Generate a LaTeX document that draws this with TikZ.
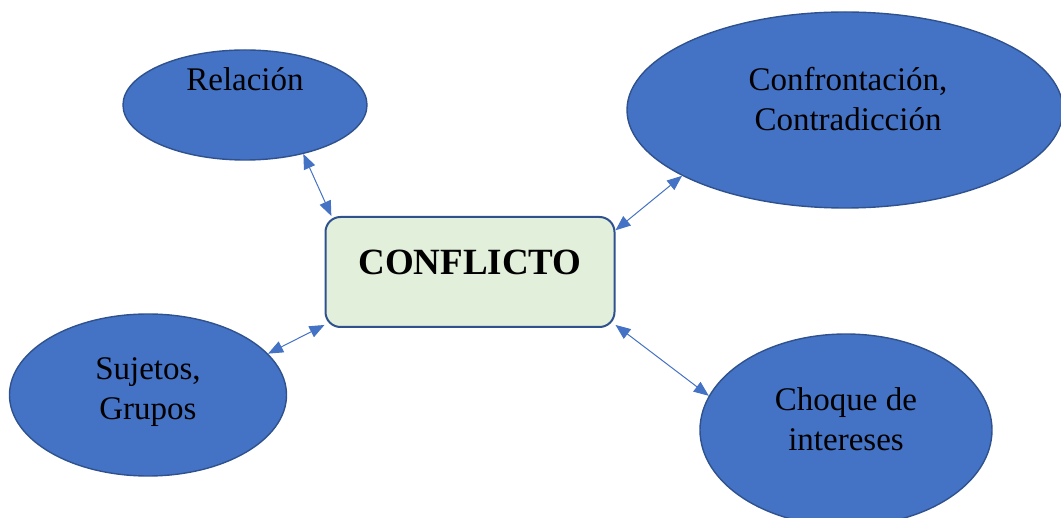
\documentclass[tikz,border=0pt]{standalone}
\usepackage{fontspec}
\setmainfont{Liberation Serif}
\usetikzlibrary{shapes.geometric, arrows.meta}
\definecolor{bubblefill}{HTML}{4472C4}
\definecolor{bubbleline}{HTML}{2F528F}
\definecolor{boxfill}{HTML}{E2EFDA}
\tikzstyle{bubble} = [ellipse, draw=bubbleline, fill=bubblefill, line width=1.4pt, inner sep=0pt]
\tikzstyle{centre} = [rectangle, rounded corners=15pt, draw=bubbleline, fill=boxfill, line width=2pt, minimum width=289pt, minimum height=110pt]
\tikzstyle{word} = [font=\fontsize{33}{40}\selectfont, align=center, anchor=base, inner sep=0pt]
\tikzstyle{arrow} = [line width=1pt, draw=bubblefill, {Triangle[length=15pt,width=12pt]}-{Triangle[length=15pt,width=12pt]}]

\begin{document}
\begin{tikzpicture}[x=1pt,y=-1pt]
\useasboundingbox (0,0) rectangle (1061,518);

\node[bubble, minimum width=244pt, minimum height=110pt] (rel) at (245,105) {};
\node[bubble, minimum width=436pt, minimum height=196pt] (conf) at (845,110) {};
\node[bubble, minimum width=277pt, minimum height=162pt] (suj) at (148,395) {};
\node[bubble, minimum width=292pt, minimum height=192pt] (choq) at (846,430) {};
\node[centre] (conflicto) at (470,272) {};

% base of the two-line words is the last line
\node[word] (relt) at (245,91) {Relación};
\node[word] (conft) at (848,131) {Confrontación,\\Contradicción};
\node[word] (sujt) at (148,420) {Sujetos,\\Grupos};
\node[word] (choqt) at (846,451) {Choque de\\intereses};
\node[word, font=\fontsize{37}{44}\selectfont\bfseries] (conflictot) at (470,275) {CONFLICTO};

\draw[arrow] (rel.-40) -- (conflicto.158);
\draw[arrow] (conf.202) -- (conflicto.16);
\draw[arrow] (suj.19) -- (conflicto.200);
\draw[arrow] (choq.166) -- (conflicto.-20);
\end{tikzpicture}
\end{document}
